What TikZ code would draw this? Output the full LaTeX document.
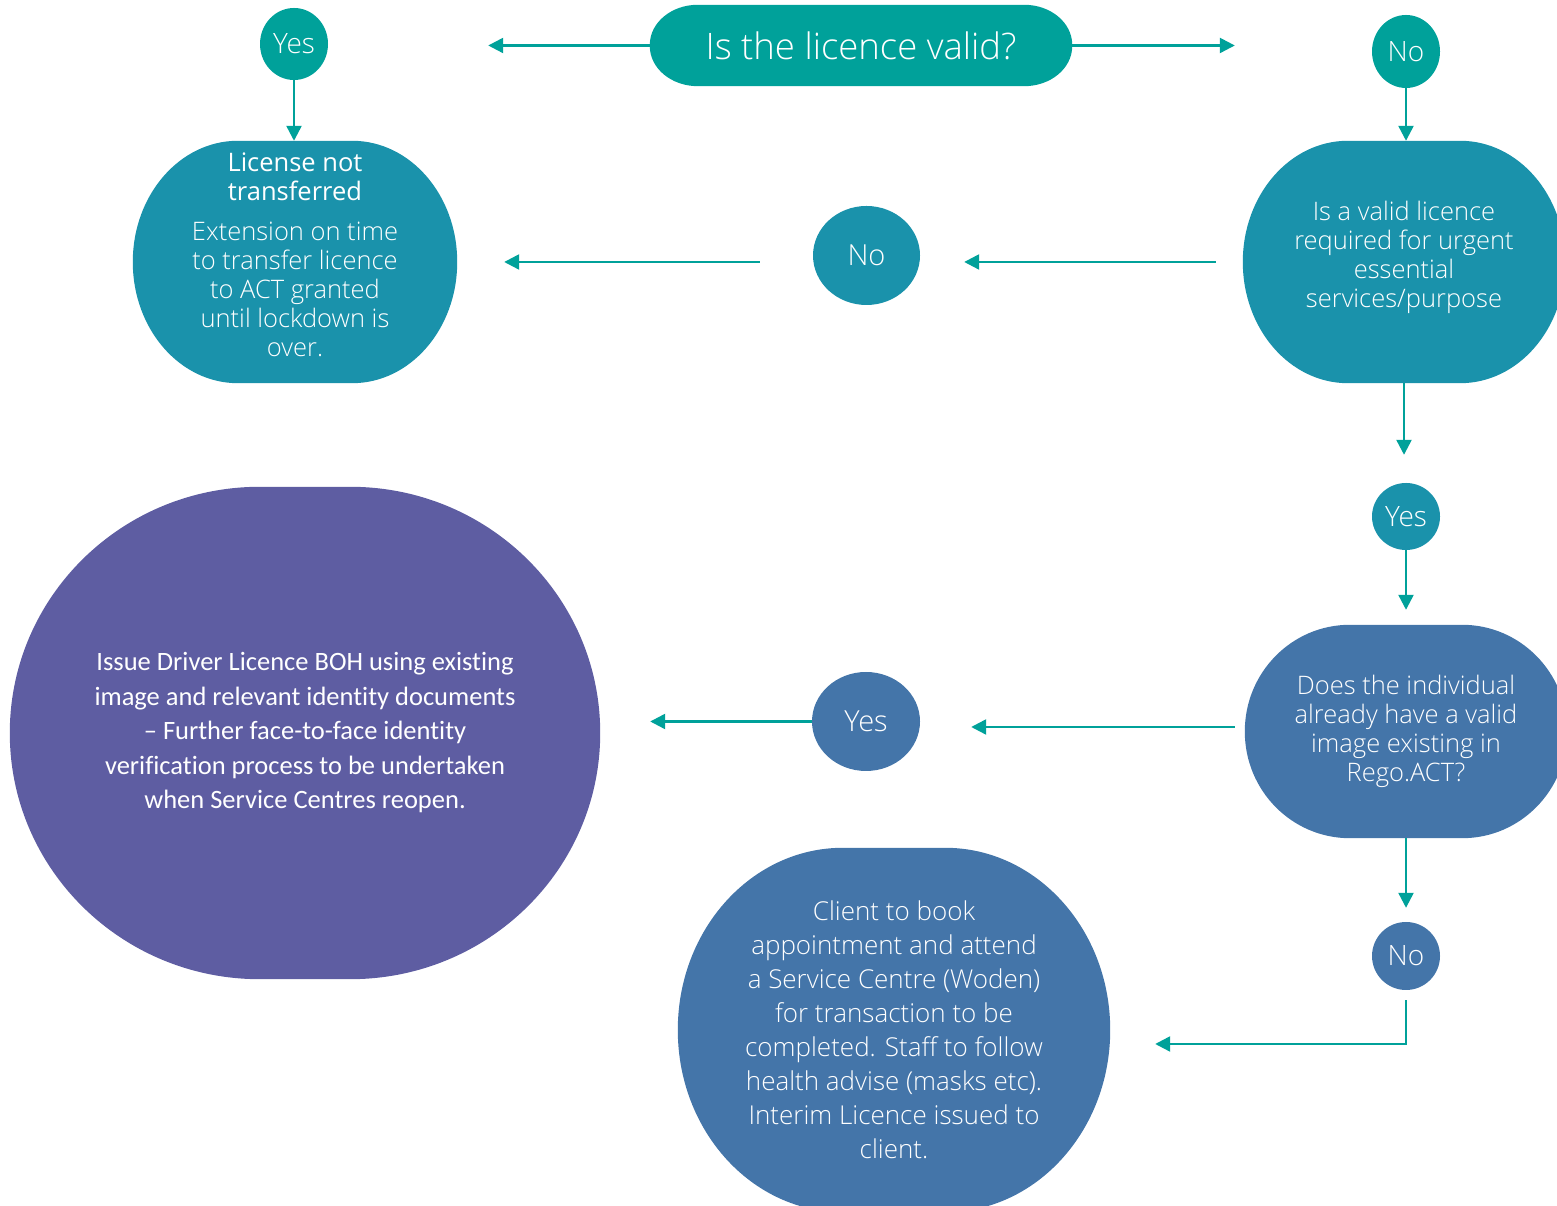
\documentclass[tikz,border=0pt]{standalone}
\usepackage{fontspec}
\setmainfont{Open Sans Light}
\newfontfamily\osreg{Open Sans}
\newfontfamily\oslight{Open Sans Light}
\newfontfamily\calibfont{Carlito}[Ligatures=NoCommon]
\usetikzlibrary{shapes.geometric,arrows.meta,backgrounds}
\definecolor{cA}{HTML}{00A19A}
\definecolor{cB}{HTML}{1A92AB}
\definecolor{cC}{HTML}{4475A9}
\definecolor{cD}{HTML}{5E5DA2}
\newcommand\myblob[4]{%
  \begin{pgfonlayer}{background}
  \fill[#4] ([xshift=#2pt]#1.north west) -- ([xshift=-#2pt]#1.north east)
    arc[start angle=90,end angle=0,x radius=#2,y radius=#3]
    -- ([yshift=#3pt]#1.south east)
    arc[start angle=0,end angle=-90,x radius=#2,y radius=#3]
    -- ([xshift=#2pt]#1.south west)
    arc[start angle=270,end angle=180,x radius=#2,y radius=#3]
    -- ([yshift=-#3pt]#1.north west)
    arc[start angle=180,end angle=90,x radius=#2,y radius=#3] -- cycle;
  \end{pgfonlayer}}
\tikzset{
  conn/.style={draw=cA, line width=2.4pt, -{Triangle[length=15pt,width=15pt]}},
  oval/.style={ellipse, inner sep=0pt, fill=#1, text=white, font=\fontsize{28}{32}\selectfont},
  blobnode/.style={rectangle, inner sep=0pt, text=white, align=center, font=\fontsize{25.5}{29}\selectfont},
}
\begin{document}
\begin{tikzpicture}[x=1pt,y=1pt]
\useasboundingbox (0,0) rectangle (1557,1206);
\clip (0,0) rectangle (1557,1206);

% top decision
\node[blobnode, minimum width=422pt, minimum height=81pt, font=\fontsize{36.5}{40}\selectfont] (top) at (861,1160.5) {Is the licence valid?};
\myblob{top}{48}{40}{cA}

% small ovals
\node[oval=cA, minimum width=68pt, minimum height=72pt] (yes1) at (294,1162) {Yes};
\node[oval=cA, minimum width=68pt, minimum height=73pt] (no1) at (1406,1154.5) {No};
\node[oval=cB, minimum width=107pt, minimum height=99pt, font=\fontsize{29}{32}\selectfont] (no2) at (866.5,950.5) {No};
\node[oval=cB, minimum width=68pt, minimum height=67pt] (yes2) at (1406,689.5) {Yes};
\node[oval=cC, minimum width=108pt, minimum height=99pt, font=\fontsize{29}{32}\selectfont] (yes3) at (866,484.5) {Yes};
\node[oval=cC, minimum width=68pt, minimum height=68pt] (no3) at (1406,250) {No};

% big boxes
\node[blobnode, minimum width=324pt, minimum height=242pt, text depth=14pt] (lic) at (295,944)
  {\osreg License not\\\osreg transferred\\[11pt]Extension on time\\to transfer licence\\to ACT granted\\until lockdown is\\over.};
\myblob{lic}{105}{121}{cB}

\node[blobnode, minimum width=322pt, minimum height=242pt, text depth=15pt] (valid) at (1404,944)
  {Is a valid licence\\required for urgent\\essential\\services/purpose};
\myblob{valid}{105}{121}{cB}

\node[blobnode, minimum width=322pt, minimum height=213pt] (does) at (1406,474.5)
  {Does the individual\\already have a valid\\image existing in\\Rego.ACT?};
\myblob{does}{105}{106.5}{cC}

\node[blobnode, minimum width=590pt, minimum height=492pt, font=\calibfont\fontsize{26.5}{34.5}\selectfont] (purple) at (305,473)
  {Issue Driver Licence BOH using existing\\image and relevant identity documents\\– Further face-to-face identity\\verification process to be undertaken\\when Service Centres reopen.};
\myblob{purple}{250}{246}{cD}

\node[blobnode, minimum width=432pt, minimum height=364pt, font=\fontsize{26}{34}\selectfont] (client) at (894,176)
  {Client to book\\appointment and attend\\a Service Centre (Woden)\\for transaction to be\\completed. Staff to follow\\health advise (masks etc).\\Interim Licence issued to\\client.};
\myblob{client}{165}{182}{cC}

% connectors
\draw[conn, shorten >=160pt] (top.west) -- (top.west -| yes1.east);
\draw[conn, shorten >=137pt] (top.east) -- (top.east -| no1.west);
\draw[conn] (yes1.south) -- (yes1.south |- lic.north);
\draw[conn] (no1.south) -- (no1.south |- valid.north);
\draw[conn, shorten <=27pt, shorten >=44pt] (valid.west) -- (valid.west -| no2.east);
\draw[conn, shorten <=53pt, shorten >=47pt] (lic.east -| no2.west) -- (lic.east);
\draw[conn, shorten >=28pt] (valid.south) -- (valid.south |- yes2.north);
\draw[conn, shorten >=15pt] (yes2.south) -- (yes2.south |- does.north);
\draw[conn, shorten <=10pt, shorten >=51pt] ([yshift=4.5pt]does.west) -- ([yshift=4.5pt]does.west -| yes3.east);
\draw[conn, shorten >=50pt] (yes3.west) -- (yes3.west -| purple.east);
\draw[conn, shorten >=14pt] (does.south) -- (does.south |- no3.north);
\draw[conn, shorten <=10pt, shorten >=45pt] (no3.south) |- ([yshift=-14pt]client.east);
\end{tikzpicture}
\end{document}
